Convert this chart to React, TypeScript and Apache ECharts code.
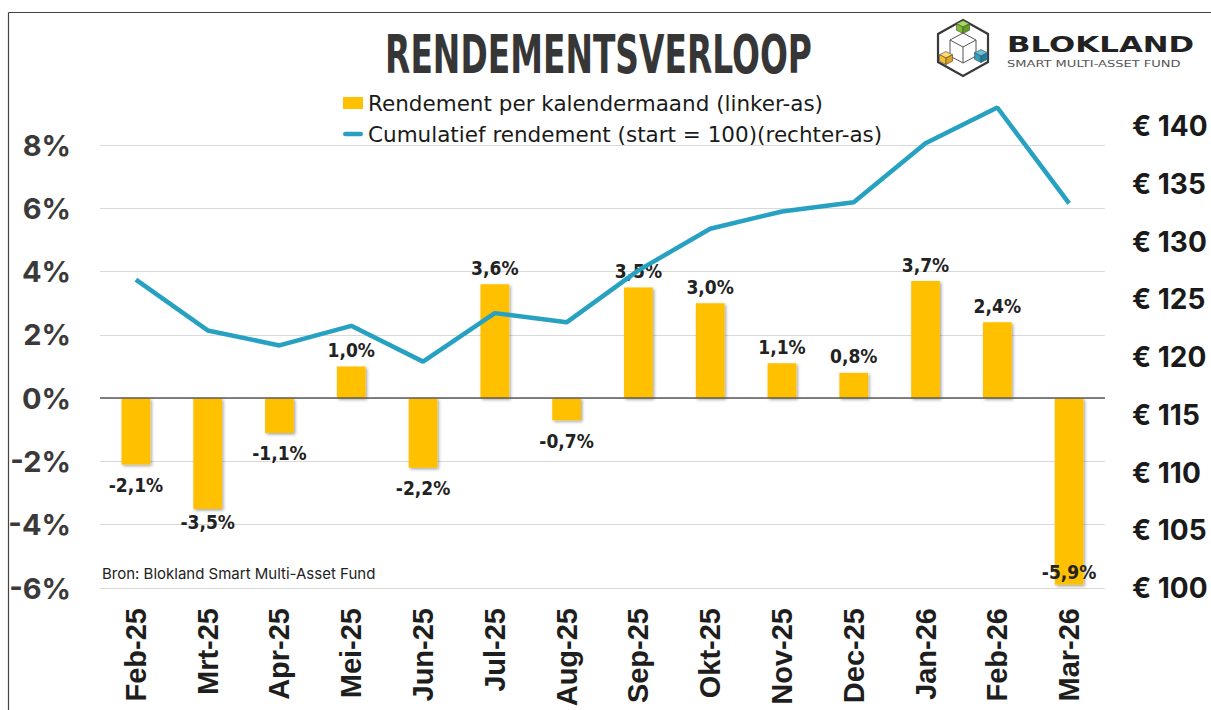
import React, { useEffect, useRef } from 'react';
import * as echarts from 'echarts';

const months = ['Feb-25', 'Mrt-25', 'Apr-25', 'Mei-25', 'Jun-25', 'Jul-25', 'Aug-25', 'Sep-25', 'Okt-25', 'Nov-25', 'Dec-25', 'Jan-26', 'Feb-26', 'Mar-26'];
const monthlyReturns = [-2.1, -3.5, -1.1, 1.0, -2.2, 3.6, -0.7, 3.5, 3.0, 1.1, 0.8, 3.7, 2.4, -5.9];
const cumulative = [126.7, 122.3, 121.0, 122.7, 119.6, 123.8, 123.0, 127.5, 131.1, 132.6, 133.4, 138.5, 141.6, 133.3];

const barName = 'Rendement per kalendermaand (linker-as)';
const lineName = 'Cumulatief rendement (start = 100)(rechter-as)';
const titleText = 'RENDEMENTSVERLOOP';
const sourceText = 'Bron: Blokland Smart Multi-Asset Fund';

const BAR_COLOR = '#FFC000';
const LINE_COLOR = '#27A1C2';

function cube(cx: number, cy: number, s: number, top: string, left: string, right: string) {
  return [
    { type: 'polygon', shape: { points: [[cx, cy - s], [cx + s, cy - s / 2], [cx, cy], [cx - s, cy - s / 2]] }, style: { fill: top, stroke: '#444', lineWidth: 0.6 } },
    { type: 'polygon', shape: { points: [[cx - s, cy - s / 2], [cx, cy], [cx, cy + s], [cx - s, cy + s / 2]] }, style: { fill: left, stroke: '#444', lineWidth: 0.6 } },
    { type: 'polygon', shape: { points: [[cx, cy], [cx + s, cy - s / 2], [cx + s, cy + s / 2], [cx, cy + s]] }, style: { fill: right, stroke: '#444', lineWidth: 0.6 } },
  ];
}

export default function App() {
  const ref = useRef<HTMLDivElement>(null);

  useEffect(() => {
    document.body.style.margin = '0';
    const chart = echarts.init(ref.current!, null, { renderer: 'svg' });

    const barData = monthlyReturns.map((v, i) => {
      if (i === monthlyReturns.length - 1) {
        return { value: v, label: { position: 'insideBottom', distance: 3 } };
      }
      if (v < -3) return { value: v, label: { distance: 4 } };
      if (v < 0) return { value: v, label: { distance: 11 } };
      return { value: v };
    });

    const option: any = {
      animation: false,
      backgroundColor: '#ffffff',
      legend: {
        orient: 'vertical',
        left: 338,
        top: 87,
        itemWidth: 20,
        itemHeight: 12,
        itemGap: 9,
        itemTextGap: 3,
        selectedMode: false,
        textStyle: { fontFamily: 'DejaVu Sans', fontSize: 21.5, color: '#1a1a1a' },
        data: [
          { name: barName, icon: 'rect' },
          { name: lineName, icon: 'path://M2.5,0H19.5A2.5,2.5,0,0,1,19.5,5H2.5A2.5,2.5,0,0,1,2.5,0Z' },
        ],
      },
      grid: [
        { left: 100, right: 106, top: 145, bottom: 122 },
        { left: 100, right: 106, top: 126, bottom: 122 },
      ],
      xAxis: [
        {
          type: 'category',
          gridIndex: 0,
          data: months,
          axisLine: { show: false },
          axisTick: { show: false },
          axisLabel: {
            rotate: 90,
            margin: 20,
            fontSize: 29,
            fontWeight: 'bold',
            fontFamily: 'Liberation Sans, Arial, sans-serif',
            color: '#1e1e1e',
          },
        },
        { type: 'category', gridIndex: 1, data: months, show: false },
      ],
      yAxis: [
        {
          type: 'value',
          gridIndex: 0,
          min: -6,
          max: 8,
          interval: 2,
          axisLine: { show: false },
          axisTick: { show: false },
          axisLabel: {
            formatter: (v: number) => `${v}%`,
            fontFamily: 'Inter',
            fontWeight: 'bold',
            fontSize: 29,
            color: '#3a3a3a',
            margin: 29,
          },
          splitLine: { lineStyle: { color: '#D9D9D9', width: 1 } },
        },
        {
          type: 'value',
          gridIndex: 1,
          position: 'right',
          min: 100,
          max: 140,
          interval: 5,
          axisLine: { show: false },
          axisTick: { show: false },
          splitLine: { show: false },
          axisLabel: {
            formatter: (v: number) => `€ ${v}`,
            fontFamily: 'Inter',
            fontWeight: 'bold',
            fontSize: 28,
            color: '#1a1a1a',
            margin: 27,
          },
        },
      ],
      series: [
        {
          type: 'bar',
          name: barName,
          xAxisIndex: 0,
          yAxisIndex: 0,
          data: barData,
          barWidth: '40%',
          z: 2,
          itemStyle: {
            color: BAR_COLOR,
            shadowColor: 'rgba(0,0,0,0.35)',
            shadowBlur: 3,
            shadowOffsetX: 1.5,
            shadowOffsetY: 1.5,
          },
          label: {
            show: true,
            position: 'outside',
            distance: 7,
            formatter: (p: any) => `${Number(p.value).toFixed(1).replace('.', ',')}%`,
            fontFamily: '"DejaVu Sans Condensed", sans-serif',
            fontWeight: 'bold',
            fontSize: 19,
            color: '#222222',
          },
          markLine: {
            silent: true,
            symbol: 'none',
            label: { show: false },
            lineStyle: { color: '#5a5a5a', width: 1.5, type: 'solid' },
            data: [{ yAxis: 0 }],
          },
        },
        {
          type: 'line',
          name: lineName,
          xAxisIndex: 1,
          yAxisIndex: 1,
          data: cumulative,
          symbol: 'none',
          clip: false,
          z: 3,
          lineStyle: { color: LINE_COLOR, width: 4.5 },
          itemStyle: { color: LINE_COLOR },
        },
      ],
      graphic: [
        { type: 'line', shape: { x1: 8.5, y1: 12.5, x2: 1211, y2: 12.5 }, style: { stroke: '#444', lineWidth: 1.2 } },
        { type: 'line', shape: { x1: 8.5, y1: 12.5, x2: 8.5, y2: 710 }, style: { stroke: '#444', lineWidth: 1.2 } },
        {
          type: 'text',
          x: 598.5,
          y: 55,
          scaleX: 0.69,
          style: {
            text: titleText,
            align: 'center',
            verticalAlign: 'middle',
            font: 'bold 53px "DejaVu Sans Condensed", sans-serif',
            fill: '#363636',
          },
        },
        {
          type: 'text',
          x: 102,
          y: 573,
          style: { text: sourceText, verticalAlign: 'middle', font: '15px Inter', fill: '#222' },
        },
        // logo
        { type: 'polygon', shape: { points: [[963, 20], [988, 34], [988, 62], [963, 76], [938, 62], [938, 34]] }, style: { fill: 'none', stroke: '#3a3a3a', lineWidth: 2.2 } },
        { type: 'polyline', shape: { points: [[950, 40], [963, 33], [976, 40], [976, 56], [963, 63], [950, 56], [950, 40], [963, 47], [976, 40]] }, style: { fill: 'none', stroke: '#555', lineWidth: 1 } },
        { type: 'line', shape: { x1: 963, y1: 47, x2: 963, y2: 63 }, style: { stroke: '#555', lineWidth: 1 } },
        ...cube(963, 27, 6.5, '#A8D85C', '#7FBC2F', '#609E1D'),
        ...cube(946, 58, 6.5, '#FFDA70', '#F6BF2E', '#DDA51C'),
        ...cube(981, 56, 6.5, '#62C3DF', '#2F9FC1', '#1F7E9C'),
        {
          type: 'text',
          x: 1007,
          y: 44,
          scaleX: 1.47,
          style: { text: 'BLOKLAND', verticalAlign: 'middle', font: 'bold 21px "DejaVu Sans"', fill: '#222' },
        },
        {
          type: 'text',
          x: 1007,
          y: 64,
          scaleX: 1.45,
          style: { text: 'SMART MULTI-ASSET FUND', verticalAlign: 'middle', font: '9px "DejaVu Sans"', fill: '#555' },
        },
      ],
    };

    chart.setOption(option);
    return () => chart.dispose();
  }, []);

  return <div ref={ref} style={{ width: 1211, height: 710 }} />;
}
